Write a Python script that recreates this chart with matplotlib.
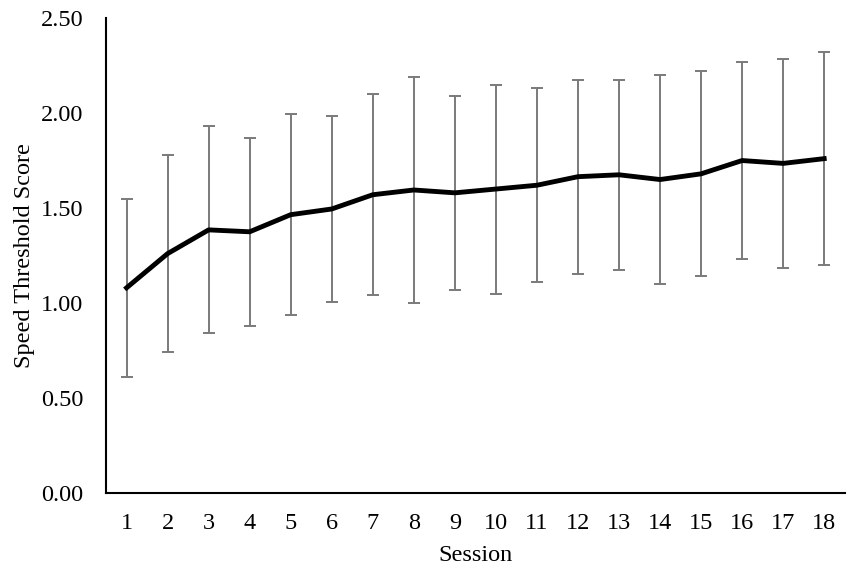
import matplotlib
matplotlib.use("Agg")
import matplotlib.pyplot as plt

sessions = list(range(1, 19))
mean_score = [1.08, 1.26, 1.385, 1.375, 1.465, 1.495, 1.57, 1.595, 1.58,
              1.60, 1.62, 1.665, 1.675, 1.65, 1.68, 1.75, 1.735, 1.76]
sd_score = [0.47, 0.52, 0.545, 0.495, 0.53, 0.49, 0.53, 0.595, 0.51,
            0.55, 0.51, 0.51, 0.50, 0.55, 0.54, 0.52, 0.55, 0.56]
y_ticks = [0, 0.5, 1.0, 1.5, 2.0, 2.5]

plt.rcParams["font.family"] = ["Liberation Serif", "DejaVu Serif"]

fig = plt.figure(figsize=(8.51, 5.75), dpi=100)
ax = fig.add_axes([0.1246, 0.1426, 0.868, 0.826])

ax.errorbar(sessions, mean_score, yerr=sd_score, fmt="none",
            ecolor="#7a7a7a", elinewidth=1.4, capsize=4, capthick=1.4)
ax.plot(sessions, mean_score, color="black", linewidth=3.5,
        solid_joinstyle="round")

ax.set_xlim(0.5, 18.5)
ax.set_ylim(0, 2.5)
ax.set_xticks(sessions)
ax.set_yticks(y_ticks)
ax.set_yticklabels([f"{v:.2f}" for v in y_ticks])
ax.tick_params(length=0, labelsize=17.5)
ax.tick_params(axis="x", pad=14.5)
ax.tick_params(axis="y", pad=16.5)

ax.spines["top"].set_visible(False)
ax.spines["right"].set_visible(False)
ax.spines["left"].set_linewidth(1.5)
ax.spines["bottom"].set_linewidth(1.5)

ax.set_xlabel("Session", fontsize=17.5, labelpad=8)
ax.set_ylabel("Speed Threshold Score", fontsize=17.5, labelpad=4)

fig.savefig("out.png", dpi=100)
